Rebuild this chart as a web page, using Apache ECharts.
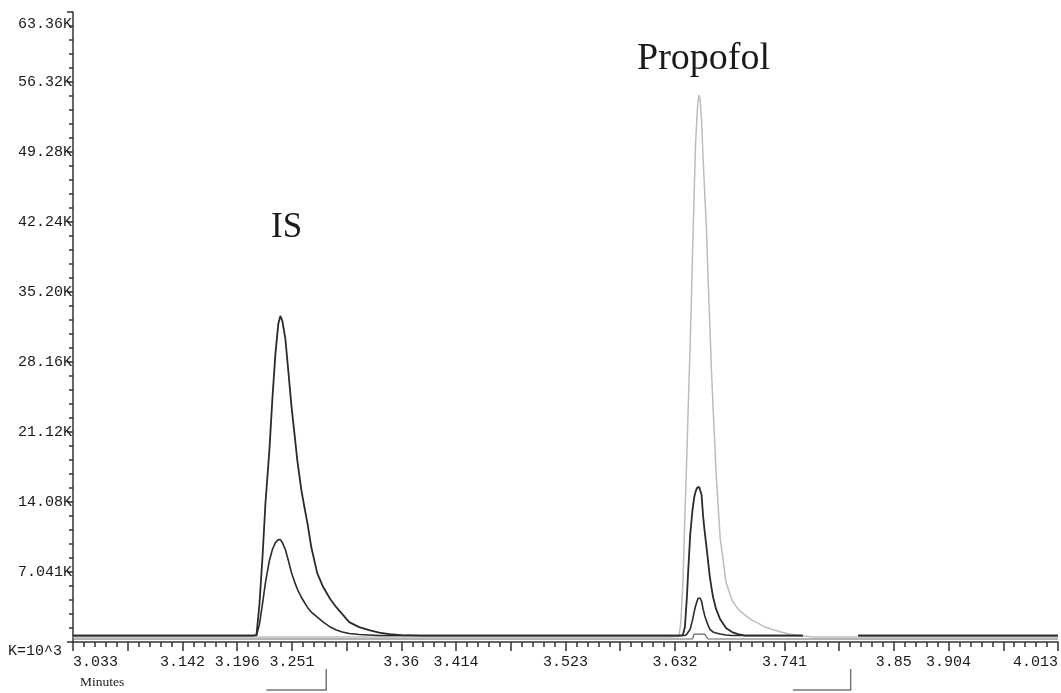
<!DOCTYPE html>
<html><head><meta charset="utf-8">
<script src="https://cdn.jsdelivr.net/npm/echarts@6/dist/echarts.min.js"></script>
<style>html,body{margin:0;padding:0;background:#fff}#c{width:1061px;height:693px}</style>
</head><body><div id="c"></div>
<script>
// ---- axis definitions ----
const T0 = 3.033;          // first x tick (minutes)
const XSTEP = 0.0545;      // minutes between major x ticks
const YSTEP = 7040;        // counts between major y ticks
const xTickLabels = ['3.033','','3.142','3.196','3.251','','3.36','3.414','','3.523','','3.632','','3.741','','3.85','3.904','','4.013'];
const yTickLabels = ['','7.041K','14.08K','21.12K','28.16K','35.20K','42.24K','49.28K','56.32K','63.36K'];

// ---- baseline stretches (minutes) ----
const preTime  = [3.033, 3.080, 3.120, 3.160, 3.200];
const midTime  = [3.380, 3.450, 3.520, 3.580, 3.620];
const postTime = [3.770, 3.790, 3.810];
const tailTime = [3.815, 3.870, 3.930, 3.980, 4.014];

// ---- IS peak region ----
const isTime = [3.205,3.212,3.2157,3.2187,3.2217,3.2247,3.2286,3.2316,3.2346,3.2375,3.2395,3.2415,3.2445,3.2475,3.2505,3.2535,3.2565,3.2604,3.2634,3.2664,3.2704,3.2763,3.2823,3.2893,3.2952,3.3012,3.3081,3.3180,3.3279,3.3380,3.3480,3.3600];
const isA = [650,650,700,3800,8500,14000,19300,24500,29000,32000,32800,32300,30500,27200,23800,21000,18200,15300,13600,12000,9500,6900,5500,4300,3500,2800,2000,1500,1200,950,800,700];
const isB = [650,650,650,1800,3800,6000,8200,9300,10000,10300,10300,10000,9300,8200,7000,6100,5300,4500,4000,3500,3000,2500,2000,1500,1200,1000,850,750,700,650,650,650];

// ---- Propofol peak region ----
const proTime = [3.625,3.6364,3.6384,3.6404,3.6424,3.6444,3.6457,3.6477,3.6500,3.6516,3.6530,3.6545,3.6556,3.6566,3.6576,3.6590,3.6606,3.6620,3.6639,3.6655,3.6672,3.6690,3.6705,3.6735,3.6775,3.6834,3.6893,3.6953,3.7023,3.7092,3.7152,3.7221,3.7281,3.7380,3.7480,3.7600];
const proA = [650,650,650,700,1500,4500,7100,10800,13300,14500,15100,15500,15600,15600,15400,14800,12600,11200,9600,8100,6600,5400,4500,3300,2300,1400,1000,800,650,650,650,650,650,650,650,650];
const proB = [650,650,650,650,650,800,900,1300,2200,3000,3600,4100,4400,4500,4400,4100,3300,2700,2100,1700,1300,1100,1000,900,800,700,650,650,650,650,650,650,650,650,650,650];
const proC = [500,550,2000,6000,12600,19000,23500,30000,39000,45000,50000,53000,54500,55000,54500,52500,48500,45500,41500,36500,32000,27000,23500,17000,10500,6000,4200,3300,2700,2200,1900,1500,1300,1000,750,600];
const proD = [300,300,300,300,300,300,300,300,300,800,800,800,800,800,800,800,800,800,800,300,300,300,300,300,300,300,300,300,300,300,300,300,300,300,300,300];

// ---- integration window brackets (minutes) ----
const windows = [[3.2256, 3.2852], [3.7500, 3.8075]];

const BLACK = '#2b2b2b', GRAY = '#bdbdbd', AXIS = '#333';
const pairs = (ts, vs) => ts.map((t, i) => [t - T0, vs[i]]);
const flat = (ts, v) => ts.map(t => [t - T0, v]);
const GAP = [[3.760 - T0, '-']];

const dataA = [].concat(flat(preTime,650), pairs(isTime,isA), flat(midTime,650), pairs(proTime,proA), GAP, flat(tailTime,650));
const dataB = [].concat(flat(preTime,650), pairs(isTime,isB), flat(midTime,650), pairs(proTime,proB), GAP, flat(tailTime,650));
const dataC = [].concat(flat(preTime,500), flat(isTime.slice(0,1),500), flat(midTime,500), pairs(proTime,proC), flat(postTime,500), flat(tailTime,500));
const dataD = [].concat(flat(preTime,300), flat(midTime,300), pairs(proTime,proD), flat(postTime,300), flat(tailTime,300));

const chart = echarts.init(document.getElementById('c'), null, {renderer: 'canvas'});
const labelFont = {fontFamily: 'Liberation Mono', fontSize: 15, color: '#1a1a1a'};

function line(data, color, width, z) {
  return {type: 'line', data, showSymbol: false, symbol: 'none', smooth: false,
    connectNulls: false, lineStyle: {color, width}, z, animation: false};
}

chart.setOption({
  animation: false,
  backgroundColor: '#fff',
  grid: {left: 73, right: 0, top: 12, bottom: 51, containLabel: false},
  xAxis: {
    type: 'value', min: 0, max: 18 * XSTEP, interval: XSTEP,
    axisLine: {show: true, lineStyle: {color: AXIS, width: 1.5}},
    axisTick: {show: true, length: 9, lineStyle: {color: AXIS, width: 1.5}},
    minorTick: {show: true, splitNumber: 5, length: 5, lineStyle: {color: AXIS, width: 1.5}},
    splitLine: {show: false},
    axisLabel: Object.assign({
      margin: 13, hideOverlap: false, showMinLabel: true, showMaxLabel: true,
      alignMinLabel: 'left', alignMaxLabel: 'right',
      formatter: v => xTickLabels[Math.round(v / XSTEP)] || ''
    }, labelFont)
  },
  yAxis: {
    type: 'value', min: 0, max: 9 * YSTEP, interval: YSTEP,
    axisLine: {show: true, lineStyle: {color: AXIS, width: 1.5}},
    axisTick: {show: true, length: 6, lineStyle: {color: AXIS, width: 1.5}},
    minorTick: {show: true, splitNumber: 5, length: 4, lineStyle: {color: AXIS, width: 1.5}},
    splitLine: {show: false},
    axisLabel: Object.assign({
      margin: 1, showMinLabel: true, showMaxLabel: true,
      formatter: v => {
        const i = Math.round(v / YSTEP);
        const s = yTickLabels[i] || '';
        return i === yTickLabels.length - 1 ? '{top|' + s + '}' : s;
      },
      rich: {top: {fontFamily: 'Liberation Mono', fontSize: 15, color: '#1a1a1a', padding: [24, 0, 0, 0]}}
    }, labelFont)
  },
  series: [
    line(dataC, GRAY, 1.5, 2),
    line(dataD, '#666', 1.2, 3),
    line(dataB, BLACK, 1.6, 4),
    line(dataA, BLACK, 1.8, 5)
  ]
});

// annotation texts and integration window brackets
const px = t => chart.convertToPixel({xAxisIndex: 0}, t - T0);
const graphics = [
  {type: 'text', left: 271, top: 210, style: {text: 'IS', font: '35px "Liberation Serif"', fill: '#1a1a1a'}},
  {type: 'text', left: 637, top: 40, style: {text: 'Propofol', font: '38px "Liberation Serif"', fill: '#1a1a1a'}},
  {type: 'text', left: 8, top: 644, style: {text: 'K=10^3', font: '15px "Liberation Mono"', fill: '#1a1a1a'}},
  {type: 'text', left: 80, top: 675, style: {text: 'Minutes', font: '13.5px "Liberation Serif"', fill: '#1a1a1a'}}
];
windows.forEach(w => {
  const a = px(w[0]), b = px(w[1]);
  graphics.push({type: 'polyline', shape: {points: [[a, 690], [b, 690], [b, 669]]},
    style: {stroke: '#777', lineWidth: 1.5, fill: null}});
});
chart.setOption({graphic: graphics});
</script>
</body></html>
